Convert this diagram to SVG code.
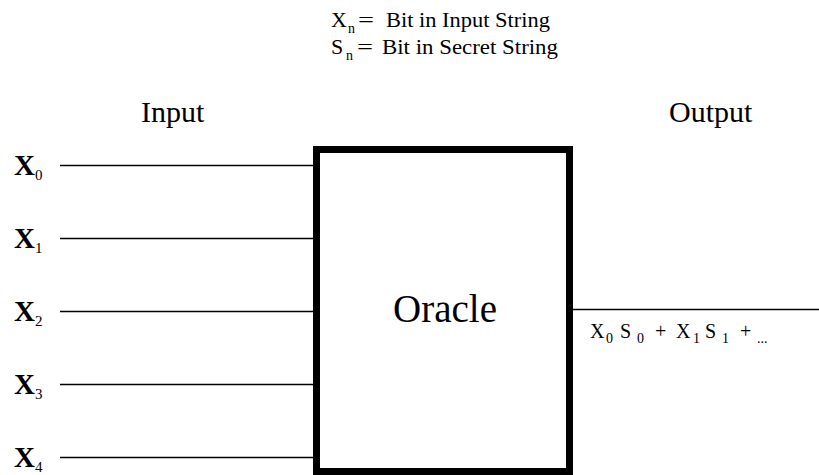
<svg xmlns="http://www.w3.org/2000/svg" width="819" height="475" viewBox="0 0 819 475">
  <style>
    text { font-family: 'Liberation Serif', 'DejaVu Serif', serif; fill: #000; }
    .legend { font-size: 22px; }
    .legend-sub { font-size: 14px; }
    .head { font-size: 30px; }
    .var { font-size: 29px; font-weight: bold; }
    .sub { font-size: 15px; font-weight: normal; }
    .expr { font-size: 20px; }
    .expr-sub { font-size: 14px; }
    .wire { stroke: #000; stroke-width: 1.6; fill: none; }
    .box { stroke: #000; stroke-width: 7; fill: #fff; }
  </style>
  <rect width="819" height="475" fill="#fff"/>

  <!-- legend -->
  <g id="legend">
    <text class="legend" x="331" y="27">X</text>
    <text class="legend-sub" x="348" y="33">n</text>
    <text class="legend" x="358" y="27" textLength="16" lengthAdjust="spacingAndGlyphs">=</text>
    <text class="legend" x="386" y="27" textLength="164" lengthAdjust="spacingAndGlyphs">Bit in Input String</text>
    <text class="legend" x="331" y="54">S</text>
    <text class="legend-sub" x="346" y="60">n</text>
    <text class="legend" x="357" y="54" textLength="16" lengthAdjust="spacingAndGlyphs">=</text>
    <text class="legend" x="382" y="54" textLength="176" lengthAdjust="spacingAndGlyphs">Bit in Secret String</text>
  </g>

  <g id="label-input"><text class="head" x="141" y="122">Input</text></g>
  <g id="label-output"><text class="head" x="669" y="122">Output</text></g>

  <!-- wires -->
  <g id="connectors">
    <line class="wire" x1="60" y1="165.5" x2="314" y2="165.5"/>
    <line class="wire" x1="60" y1="238.5" x2="314" y2="238.5"/>
    <line class="wire" x1="60" y1="311.5" x2="314" y2="311.5"/>
    <line class="wire" x1="60" y1="384.5" x2="314" y2="384.5"/>
    <line class="wire" x1="60" y1="457.5" x2="314" y2="457.5"/>
    <line class="wire" x1="572" y1="309.5" x2="819" y2="309.5"/>
  </g>

  <!-- input bits -->
  <g id="x0"><text class="var" x="14" y="175">X<tspan class="sub" dy="5">0</tspan></text></g>
  <g id="x1"><text class="var" x="14" y="248">X<tspan class="sub" dy="5">1</tspan></text></g>
  <g id="x2"><text class="var" x="14" y="321">X<tspan class="sub" dy="5">2</tspan></text></g>
  <g id="x3"><text class="var" x="14" y="394">X<tspan class="sub" dy="5">3</tspan></text></g>
  <g id="x4"><text class="var" x="14" y="467">X<tspan class="sub" dy="5">4</tspan></text></g>

  <!-- oracle -->
  <g id="oracle">
    <rect class="box" x="316.5" y="149.5" width="253" height="322"/>
    <text x="445" y="322" font-size="39" text-anchor="middle">Oracle</text>
  </g>

  <!-- output expression -->
  <g id="output-expr">
    <text class="expr" x="590" y="338">X</text>
    <text class="expr-sub" x="606" y="343">0</text>
    <text class="expr" x="620" y="338">S</text>
    <text class="expr-sub" x="637" y="343">0</text>
    <text class="expr" x="655" y="338">+</text>
    <text class="expr" x="676" y="338">X</text>
    <text class="expr-sub" x="693" y="343">1</text>
    <text class="expr" x="705" y="338">S</text>
    <text class="expr-sub" x="722" y="343">1</text>
    <text class="expr" x="740" y="338">+</text>
    <text class="expr-sub" x="757" y="343">...</text>
  </g>
</svg>
